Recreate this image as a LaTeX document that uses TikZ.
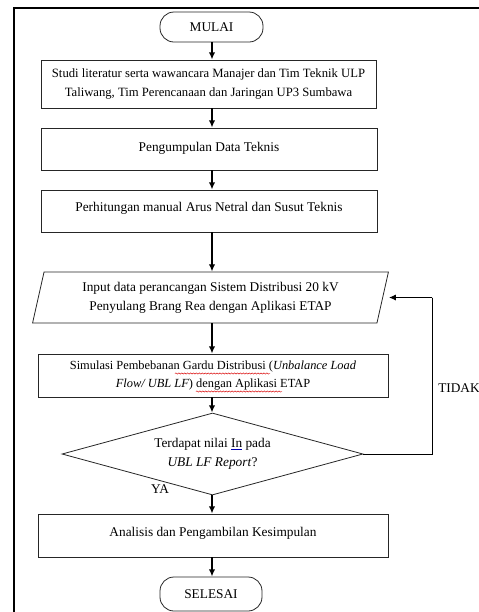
\documentclass[tikz,border=0pt]{standalone}
\usepackage{fontspec}
\setmainfont{Liberation Serif}
\usetikzlibrary{shapes.geometric,arrows.meta,decorations.pathmorphing}
\newcommand\pxu{0.75pt}
\newcommand\linkul[1]{\textcolor{blue!70!black}{\underline{\textcolor{black}{#1}}}}
\tikzset{
  base/.style={draw=black!85, line width=0.6pt, font=\fontsize{10}{14}\selectfont, align=center, inner sep=0pt},
  procbox/.style={base, rectangle},
  term/.style={base, rectangle, rounded corners=14*\pxu},
  para/.style={base, trapezium, trapezium left angle=74, trapezium right angle=106, trapezium stretches=true},
  decide/.style={base, diamond, aspect=3.67},
  arr/.style={line width=1.4pt, -{Latex[length=5.5pt,width=4.8pt]}},
  fbarr/.style={line width=0.6pt, -{Latex[length=5pt,width=4.5pt]}},
  lbl/.style={font=\fontsize{10}{12}\selectfont, inner sep=0pt},
  spell/.style={draw=red!85!black, line width=0.35pt, decorate, decoration={snake, amplitude=0.45pt, segment length=2.2pt}}
}
\begin{document}
\begin{tikzpicture}[x=0.75pt,y=-0.75pt]
\useasboundingbox (0,0) rectangle (479,612);
% frame
\draw[line width=1.2pt] (14,614) -- (14,8) -- (481,8);
\coordinate (col) at (212,0);
% nodes
\node[term, minimum width=103*\pxu, minimum height=30*\pxu] (start) at (211.5,27) {MULAI};
\node[procbox, minimum width=335*\pxu, minimum height=48*\pxu, font=\fontsize{9.5}{14}\selectfont] (b1) at (208.5,84)
  {Studi literatur serta wawancara Manajer dan Tim Teknik ULP\\Taliwang, Tim Perencanaan dan Jaringan UP3 Sumbawa};
\node[procbox, minimum width=336*\pxu, minimum height=42*\pxu, text depth=5*\pxu] (b2) at (209,149) {Pengumpulan Data Teknis};
\node[procbox, minimum width=336*\pxu, minimum height=42*\pxu, text depth=8*\pxu] (b3) at (209,211) {Perhitungan manual Arus Netral dan Susut Teknis};
\node[para, minimum width=357*\pxu, minimum height=51*\pxu] (in) at (210.5,297.5)
  {Input data perancangan Sistem Distribusi 20 kV\\Penyulang Brang Rea dengan Aplikasi ETAP};
\node[procbox, minimum width=350*\pxu, minimum height=43*\pxu, font=\fontsize{9.3}{13.5}\selectfont] (b4) at (213,375.5)
  {Simulasi Pembebanan Gardu Distribusi (\textit{Unbalance Load}\\\textit{Flow/ UBL LF}) dengan Aplikasi ETAP};
\node[decide, minimum width=301*\pxu, minimum height=82*\pxu] (dec) at (212.5,454)
  {Terdapat nilai \linkul{In} pada\\\textit{UBL LF Report}?};
\node[procbox, minimum width=350*\pxu, minimum height=43*\pxu, text depth=8*\pxu] (b5) at (213,535.5) {Analisis dan Pengambilan Kesimpulan};
\node[term, minimum width=102*\pxu, minimum height=34*\pxu] (stop) at (211,594) {SELESAI};
% labels
\node[lbl] (ya) at (160,489) {YA};
\node[lbl] (tidak) at (459,388) {TIDAK};
% spell-check marks
\draw[spell] (175,373.5) -- (270,373.5);
\draw[spell] (196,391.5) -- (282,391.5);
% connectors
\draw[arr] (start.south -| col) -- (b1.north -| col);
\draw[arr] (b1.south -| col) -- (b2.north -| col);
\draw[arr] (b2.south -| col) -- (b3.north -| col);
\draw[arr] (b3.south -| col) -- (in.north -| col);
\draw[arr] (in.south -| col) -- (b4.north -| col);
\draw[arr] (b4.south -| col) -- (dec.north -| col);
\draw[arr] (dec.south -| col) -- (b5.north -| col);
\draw[arr] (b5.south -| col) -- (stop.north -| col);
\coordinate (fb) at (432,297.5);
\draw[line width=0.6pt] (dec.east) -| (fb);
\draw[fbarr, shorten >=6*\pxu] (fb) -- (in.east);
\end{tikzpicture}
\end{document}
